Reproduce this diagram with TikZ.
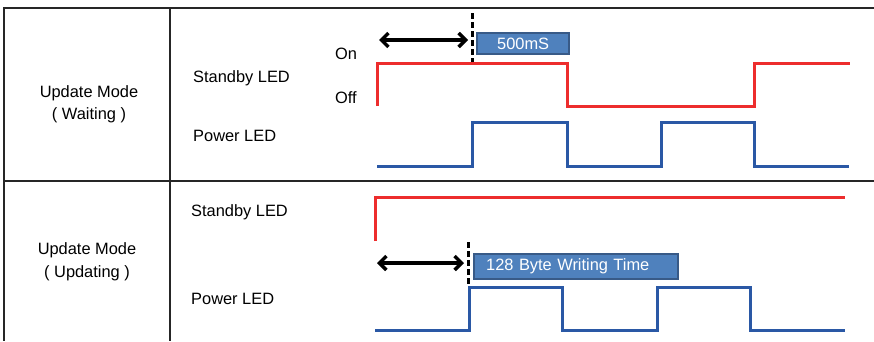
\documentclass[tikz,border=0pt]{standalone}
\usepackage{fontspec}
\setmainfont{Liberation Sans}
\usetikzlibrary{arrows.meta}
\definecolor{ledred}{RGB}{237,45,45}
\definecolor{ledblue}{RGB}{42,88,165}
\definecolor{boxfill}{RGB}{79,129,189}
\definecolor{boxedge}{RGB}{56,90,135}
\newcommand{\lblfont}{\fontsize{16.4}{19}\selectfont}
\tikzset{
  frame/.style={black!85,line width=1.6pt},
  lbl/.style={font=\lblfont,inner sep=0pt},
  redwave/.style={ledred,line width=3pt},
  bluewave/.style={ledblue,line width=3pt},
  cutline/.style={black,line width=3pt,dash pattern=on 6pt off 3pt},
  span/.style={{Straight Barb[length=7pt,width=14pt]}-{Straight Barb[length=7pt,width=14pt]},line width=3.4pt},
  timebox/.style={draw=boxedge,line width=2.4pt,fill=boxfill,text=white,font=\lblfont,
    anchor=north west,inner ysep=0pt,align=left}
}
\begin{document}
\begin{tikzpicture}[x=1pt,y=-1pt]
  % table: row 1 waiting, row 2 updating
  \useasboundingbox (0,0) rectangle (874,341);
  \draw[frame] (874,8) -- (4,8) -- (4,341);
  \draw[frame] (170,8) -- (170,341);
  \draw[frame,line width=2pt] (4,181) -- (874,181);
  % mode labels
  \node[lbl,anchor=base] (modeA) at (89,97) {Update Mode};
  \node[lbl,anchor=base] (modeAsub) at (89,119) {( Waiting )};
  \node[lbl,anchor=base] (modeB) at (87,254) {Update Mode};
  \node[lbl,anchor=base] (modeBsub) at (87,277) {( Updating )};
  % signal names
  \node[lbl,anchor=base west] (sbyA) at (193,82) {Standby LED};
  \node[lbl,anchor=base west] (pwrA) at (193,141) {Power LED};
  \node[lbl,anchor=base west] (onA) at (335,59) {On};
  \node[lbl,anchor=base west] (offA) at (335,103) {Off};
  \node[lbl,anchor=base west] (sbyB) at (191,216) {Standby LED};
  \node[lbl,anchor=base west] (pwrB) at (191,304) {Power LED};
  % waveforms
  \draw[redwave] (377,106) -- (377,63) -- (567,63) -- (567,106) -- (754,106) -- (754,63) -- (850,63);
  \draw[bluewave] (377,166) -| (472,122) -| (567,166) -| (661,122) -| (754,166) -- (849,166);
  \draw[redwave] (375,241) |- (845,197);
  \draw[bluewave] (375,330) -| (469,287) -| (562,330) -| (657,287) -| (750,330) -- (845,330);
  % time marks
  \coordinate (cutAtop) at (472,13);
  \coordinate (cutAbot) at (472,62);
  \coordinate (spanAl) at (379,40);
  \coordinate (spanAr) at (468,40);
  \draw[cutline] (cutAtop) -- (cutAbot);
  \draw[span] (spanAl) -- (spanAr);
  \node[timebox,minimum height=21pt,text width=80pt,inner xsep=6pt,align=center] (boxA) at (476,32) {500mS};
  \coordinate (cutBtop) at (468,242);
  \coordinate (cutBbot) at (468,285);
  \coordinate (spanBl) at (377,263);
  \coordinate (spanBr) at (464,263);
  \draw[cutline] (cutBtop) -- (cutBbot);
  \draw[span] (spanBl) -- (spanBr);
  \node[timebox,minimum height=25pt,text width=180pt,inner xsep=12pt] (boxB) at (473,253) {128 Byte Writing Time};
\end{tikzpicture}
\end{document}
